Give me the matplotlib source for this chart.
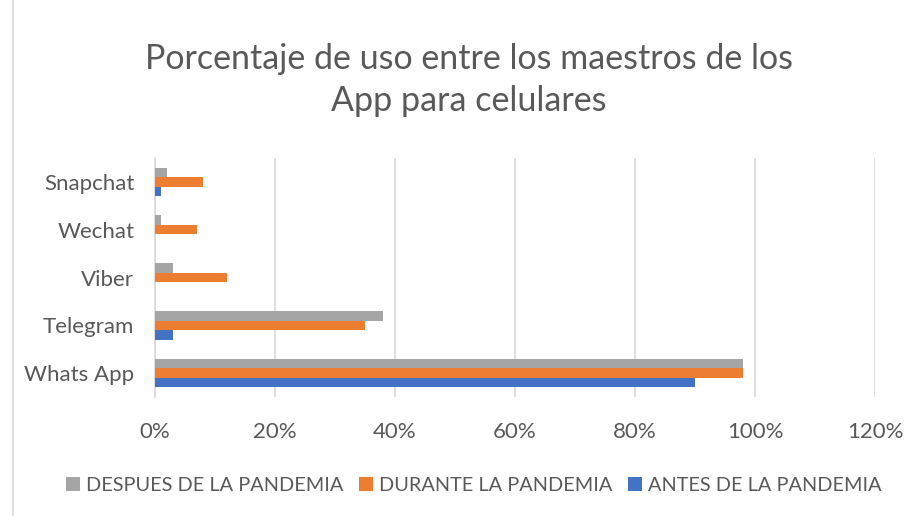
import numpy as np
import matplotlib.pyplot as plt
from matplotlib.patches import Rectangle
from matplotlib.ticker import PercentFormatter

# Data (values in %)
apps = ['Whats App', 'Telegram', 'Viber', 'Wechat', 'Snapchat']
antes = [90, 3, 0, 0, 1]
durante = [98, 35, 12, 7, 8]
despues = [98, 38, 3, 1, 2]

series_names = ['ANTES DE LA PANDEMIA', 'DURANTE LA PANDEMIA', 'DESPUES DE LA PANDEMIA']
colors = ['#4472C4', '#ED7D31', '#A5A5A5']

plt.rcParams['font.family'] = ['Lato', 'DejaVu Sans']
text_color = '#595959'

fig = plt.figure(figsize=(9.2, 5.16), dpi=100)
ax = fig.add_axes([0.1685, 0.2306, 0.7826, 0.4632])

y = np.arange(len(apps))
h = 0.2
handles = []
for i, (vals, name, col) in enumerate(zip([antes, durante, despues], series_names, colors)):
    b = ax.barh(y + (i - 1) * h, vals, height=h, color=col, label=name, zorder=3)
    handles.append(b)

ax.set_xlim(0, 120)
ax.set_ylim(-0.5, len(apps) - 0.5)
ax.set_xticks(np.arange(0, 121, 20))
ax.xaxis.set_major_formatter(PercentFormatter(decimals=0))
ax.set_yticks(y)
ax.set_yticklabels(apps)
ax.grid(axis='x', color='#D9D9D9', linewidth=1.2, zorder=0)
for s in ['top', 'right', 'bottom']:
    ax.spines[s].set_visible(False)
ax.spines['left'].set_color('#D9D9D9')
ax.spines['left'].set_linewidth(1.2)
ax.tick_params(axis='both', length=0, labelsize=16, colors=text_color)
ax.tick_params(axis='x', pad=18)
ax.tick_params(axis='y', pad=15)

fig.text(0.51, 0.845, 'Porcentaje de uso entre los maestros de los\nApp para celulares',
         ha='center', va='center', fontsize=24.5, color=text_color, linespacing=1.38)

fig.legend(handles[::-1], series_names[::-1], loc='center', bbox_to_anchor=(0.515, 0.06),
           ncol=3, frameon=False, fontsize=14.3, labelcolor=text_color,
           handlelength=0.7, handleheight=0.7, handletextpad=0.3, columnspacing=0.8)

# chart border
fig.patches.append(Rectangle((0.014, -0.01), 1.0, 1.02, transform=fig.transFigure,
                             fill=False, edgecolor='#D9D9D9', linewidth=1.2))

fig.savefig('out.png', dpi=100, facecolor='white')
